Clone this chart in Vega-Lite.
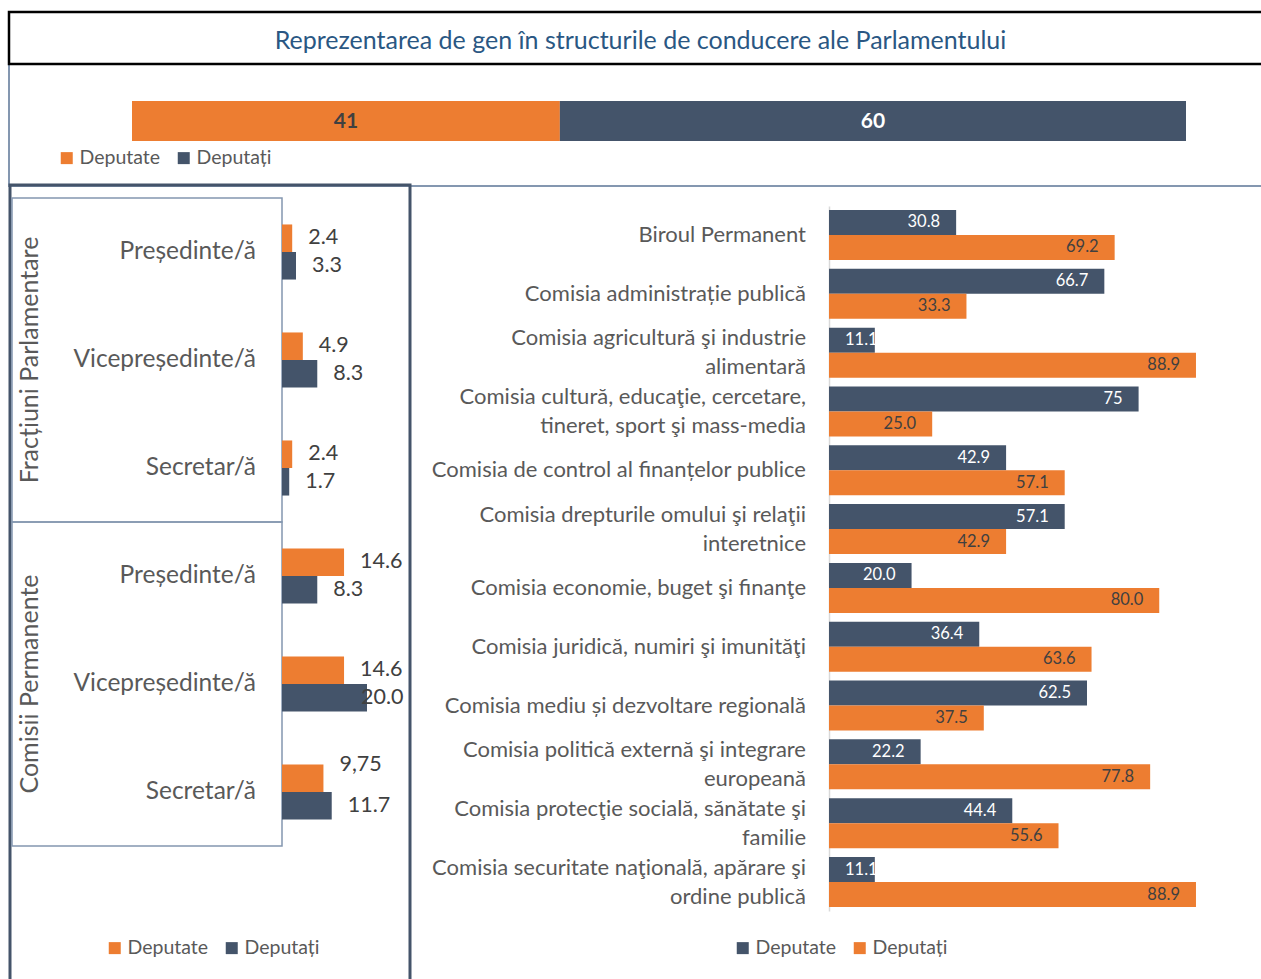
{
  "$schema": "https://vega.github.io/schema/vega-lite/v6.json",
  "width": 1261,
  "height": 979,
  "autosize": {"type": "none"},
  "padding": 0,
  "background": "white",
  "config": {
    "view": {"stroke": null},
    "font": "Lato",
    "legend": {
      "symbolType": "square",
      "symbolSize": 144,
      "labelFont": "Lato",
      "labelFontSize": 19.5,
      "labelColor": "#595959",
      "labelOffset": 3,
      "columnPadding": 13,
      "symbolStrokeWidth": 0,
      "symbolOpacity": 1,
      "padding": 0
    }
  },
  "datasets": {
    "total": [
      {"series": "Deputate", "n": 41},
      {"series": "Deputați", "n": 60}
    ],
    "groups": [
      {"group": "Fracțiuni Parlamentare"},
      {"group": "Comisii Permanente"}
    ],
    "left": [
      {"category": "FP Președinte/ă", "group": "Fracțiuni Parlamentare", "role": "Președinte/ă", "series": "Deputate", "value": 2.4, "label": "2.4"},
      {"category": "FP Președinte/ă", "group": "Fracțiuni Parlamentare", "role": "Președinte/ă", "series": "Deputați", "value": 3.3, "label": "3.3"},
      {"category": "FP Vicepreședinte/ă", "group": "Fracțiuni Parlamentare", "role": "Vicepreședinte/ă", "series": "Deputate", "value": 4.9, "label": "4.9"},
      {"category": "FP Vicepreședinte/ă", "group": "Fracțiuni Parlamentare", "role": "Vicepreședinte/ă", "series": "Deputați", "value": 8.3, "label": "8.3"},
      {"category": "FP Secretar/ă", "group": "Fracțiuni Parlamentare", "role": "Secretar/ă", "series": "Deputate", "value": 2.4, "label": "2.4"},
      {"category": "FP Secretar/ă", "group": "Fracțiuni Parlamentare", "role": "Secretar/ă", "series": "Deputați", "value": 1.7, "label": "1.7"},
      {"category": "CP Președinte/ă", "group": "Comisii Permanente", "role": "Președinte/ă", "series": "Deputate", "value": 14.6, "label": "14.6"},
      {"category": "CP Președinte/ă", "group": "Comisii Permanente", "role": "Președinte/ă", "series": "Deputați", "value": 8.3, "label": "8.3"},
      {"category": "CP Vicepreședinte/ă", "group": "Comisii Permanente", "role": "Vicepreședinte/ă", "series": "Deputate", "value": 14.6, "label": "14.6"},
      {"category": "CP Vicepreședinte/ă", "group": "Comisii Permanente", "role": "Vicepreședinte/ă", "series": "Deputați", "value": 20.0, "label": "20.0"},
      {"category": "CP Secretar/ă", "group": "Comisii Permanente", "role": "Secretar/ă", "series": "Deputate", "value": 9.75, "label": "9,75"},
      {"category": "CP Secretar/ă", "group": "Comisii Permanente", "role": "Secretar/ă", "series": "Deputați", "value": 11.7, "label": "11.7"}
    ],
    "right": [
      {"committee": "Biroul Permanent", "series": "Deputate", "value": 30.8, "label": "30.8"},
      {"committee": "Biroul Permanent", "series": "Deputați", "value": 69.2, "label": "69.2"},
      {"committee": "Comisia administrație publică", "series": "Deputate", "value": 66.7, "label": "66.7"},
      {"committee": "Comisia administrație publică", "series": "Deputați", "value": 33.3, "label": "33.3"},
      {"committee": "Comisia agricultură şi industrie\nalimentară", "series": "Deputate", "value": 11.1, "label": "11.1"},
      {"committee": "Comisia agricultură şi industrie\nalimentară", "series": "Deputați", "value": 88.9, "label": "88.9"},
      {"committee": "Comisia cultură, educaţie, cercetare,\ntineret, sport şi mass-media", "series": "Deputate", "value": 75, "label": "75"},
      {"committee": "Comisia cultură, educaţie, cercetare,\ntineret, sport şi mass-media", "series": "Deputați", "value": 25.0, "label": "25.0"},
      {"committee": "Comisia de control al finanțelor publice", "series": "Deputate", "value": 42.9, "label": "42.9"},
      {"committee": "Comisia de control al finanțelor publice", "series": "Deputați", "value": 57.1, "label": "57.1"},
      {"committee": "Comisia drepturile omului şi relaţii\ninteretnice", "series": "Deputate", "value": 57.1, "label": "57.1"},
      {"committee": "Comisia drepturile omului şi relaţii\ninteretnice", "series": "Deputați", "value": 42.9, "label": "42.9"},
      {"committee": "Comisia economie, buget şi finanţe", "series": "Deputate", "value": 20.0, "label": "20.0"},
      {"committee": "Comisia economie, buget şi finanţe", "series": "Deputați", "value": 80.0, "label": "80.0"},
      {"committee": "Comisia juridică, numiri şi imunităţi", "series": "Deputate", "value": 36.4, "label": "36.4"},
      {"committee": "Comisia juridică, numiri şi imunităţi", "series": "Deputați", "value": 63.6, "label": "63.6"},
      {"committee": "Comisia mediu și dezvoltare regională", "series": "Deputate", "value": 62.5, "label": "62.5"},
      {"committee": "Comisia mediu și dezvoltare regională", "series": "Deputați", "value": 37.5, "label": "37.5"},
      {"committee": "Comisia politică externă şi integrare\neuropeană", "series": "Deputate", "value": 22.2, "label": "22.2"},
      {"committee": "Comisia politică externă şi integrare\neuropeană", "series": "Deputați", "value": 77.8, "label": "77.8"},
      {"committee": "Comisia protecţie socială, sănătate şi\nfamilie", "series": "Deputate", "value": 44.4, "label": "44.4"},
      {"committee": "Comisia protecţie socială, sănătate şi\nfamilie", "series": "Deputați", "value": 55.6, "label": "55.6"},
      {"committee": "Comisia securitate naţională, apărare şi\nordine publică", "series": "Deputate", "value": 11.1, "label": "11.1"},
      {"committee": "Comisia securitate naţională, apărare şi\nordine publică", "series": "Deputați", "value": 88.9, "label": "88.9"}
    ]
  },
  "layer": [
    {
      "data": {"values": [{"frame": "top"}]},
      "mark": {"type": "rect", "filled": false, "stroke": "#8497B0", "strokeWidth": 2},
      "encoding": {
        "x": {"datum": "top", "type": "nominal", "scale": {"type": "band", "range": [9, 1275], "paddingInner": 0, "paddingOuter": 0}, "axis": null},
        "y": {"datum": "top", "type": "nominal", "scale": {"type": "band", "range": [64, 186], "paddingInner": 0, "paddingOuter": 0}, "axis": null}
      }
    },
    {
      "data": {"values": [{"frame": "left"}]},
      "mark": {"type": "rect", "filled": false, "stroke": "#44546A", "strokeWidth": 3},
      "encoding": {
        "x": {"datum": "left", "type": "nominal", "scale": {"type": "band", "range": [10, 410], "paddingInner": 0, "paddingOuter": 0}, "axis": null},
        "y": {"datum": "left", "type": "nominal", "scale": {"type": "band", "range": [185, 995], "paddingInner": 0, "paddingOuter": 0}, "axis": null}
      }
    },
    {
      "data": {"values": [{"title": "Reprezentarea de gen în structurile de conducere ale Parlamentului"}]},
      "encoding": {
        "x": {"datum": "t", "type": "nominal", "scale": {"type": "band", "range": [9, 1272], "paddingInner": 0, "paddingOuter": 0}, "axis": null},
        "y": {"datum": "t", "type": "nominal", "scale": {"type": "band", "range": [12, 64], "paddingInner": 0, "paddingOuter": 0}, "axis": null}
      },
      "layer": [
        {"mark": {"type": "rect", "filled": false, "stroke": "#000000", "strokeWidth": 2.5}},
        {"mark": {"type": "text", "fontSize": 25, "color": "#2A5783", "dy": 3, "baseline": "middle"}, "encoding": {"text": {"field": "title"}}}
      ]
    },
    {
      "data": {"name": "total"},
      "encoding": {
        "y": {"datum": "bar", "type": "nominal", "scale": {"type": "band", "range": [101, 141], "paddingInner": 0, "paddingOuter": 0}, "axis": null}
      },
      "layer": [
        {
          "mark": {"type": "bar"},
          "encoding": {
            "x": {"field": "n", "type": "quantitative", "stack": "zero", "scale": {"domain": [0, 101], "range": [132, 1186], "nice": false, "zero": false}, "axis": null},
            "color": {"field": "series", "type": "nominal", "scale": {"domain": ["Deputate", "Deputați"], "range": ["#ED7D31", "#44546A"]},
              "legend": {"title": null, "orient": "none", "legendX": 57, "legendY": 148, "direction": "horizontal"}}
          }
        },
        {
          "mark": {"type": "text", "fontSize": 21, "fontWeight": "bold", "baseline": "middle", "dy": 1},
          "encoding": {
            "x": {"field": "n", "type": "quantitative", "stack": "zero", "bandPosition": 0.5},
            "detail": {"field": "series"},
            "color": {"condition": {"test": "datum.series === 'Deputate'", "value": "#404040"}, "value": "#FFFFFF"},
            "text": {"field": "n"}
          }
        }
      ]
    },
    {
      "data": {"name": "groups"},
      "mark": {"type": "rect", "filled": false, "stroke": "#8497B0", "strokeWidth": 1.5},
      "encoding": {
        "x": {"datum": "box", "type": "nominal", "scale": {"type": "band", "range": [12, 282], "paddingInner": 0, "paddingOuter": 0}, "axis": null},
        "y": {"field": "group", "type": "nominal", "sort": null, "scale": {"type": "band", "range": [198, 846], "paddingInner": 0, "paddingOuter": 0}, "axis": null}
      }
    },
    {
      "data": {"name": "groups"},
      "mark": {"type": "text", "angle": 270, "fontSize": 25, "color": "#595959", "align": "center", "baseline": "middle"},
      "encoding": {
        "x": {"datum": "lbl", "type": "nominal", "scale": {"type": "band", "range": [18, 42], "paddingInner": 0, "paddingOuter": 0}, "axis": null},
        "y": {"field": "group", "type": "nominal", "sort": null, "scale": {"type": "band", "range": [198, 846], "paddingInner": 0, "paddingOuter": 0}, "axis": null},
        "text": {"field": "group"}
      }
    },
    {
      "data": {"name": "left"},
      "encoding": {
        "y": {"field": "category", "type": "nominal", "sort": null, "scale": {"type": "band", "range": [198, 846], "paddingInner": 0.49, "paddingOuter": 0.245}, "axis": null}
      },
      "layer": [
        {
          "mark": {"type": "bar"},
          "encoding": {
            "x": {"field": "value", "type": "quantitative", "scale": {"domain": [0, 30], "range": [282, 409.5], "nice": false}, "axis": null},
            "yOffset": {"field": "series", "type": "nominal", "scale": {"domain": ["Deputate", "Deputați"], "paddingInner": 0, "paddingOuter": 0}},
            "color": {"field": "series", "type": "nominal", "scale": {"domain": ["Deputate", "Deputați"], "range": ["#ED7D31", "#44546A"]},
              "legend": {"title": null, "orient": "none", "legendX": 105, "legendY": 938, "direction": "horizontal"}}
          }
        },
        {
          "transform": [{"filter": "datum.series === 'Deputate'"}],
          "mark": {"type": "text", "align": "right", "baseline": "middle", "fontSize": 24.5, "color": "#595959", "dx": -26},
          "encoding": {
            "x": {"datum": 0, "type": "quantitative"},
            "text": {"field": "role"}
          }
        },
        {
          "transform": [{"filter": "datum.label !== '20.0' && datum.label !== '9,75'"}],
          "mark": {"type": "text", "align": "left", "baseline": "middle", "fontSize": 21.5, "color": "#404040", "dx": 16},
          "encoding": {
            "x": {"field": "value", "type": "quantitative"},
            "yOffset": {"field": "series", "type": "nominal"},
            "text": {"field": "label"}
          }
        },
        {
          "transform": [{"filter": "datum.label === '20.0'"}],
          "mark": {"type": "text", "align": "left", "baseline": "middle", "fontSize": 21.5, "color": "#404040", "dx": -6},
          "encoding": {
            "x": {"field": "value", "type": "quantitative"},
            "yOffset": {"field": "series", "type": "nominal"},
            "text": {"field": "label"}
          }
        },
        {
          "transform": [{"filter": "datum.label === '9,75'"}],
          "mark": {"type": "text", "align": "left", "baseline": "middle", "fontSize": 21.5, "color": "#404040", "dx": 16, "dy": -13},
          "encoding": {
            "x": {"field": "value", "type": "quantitative"},
            "yOffset": {"field": "series", "type": "nominal"},
            "text": {"field": "label"}
          }
        }
      ]
    },
    {
      "data": {"name": "right"},
      "encoding": {
        "y": {"field": "committee", "type": "nominal", "sort": null, "scale": {"type": "band", "range": [206, 911], "paddingInner": 0.15, "paddingOuter": 0.068},
          "axis": {"orient": "left", "offset": -829, "labels": false, "ticks": false, "grid": false, "title": null, "domainColor": "#D9D9D9", "domainWidth": 1.5}}
      },
      "layer": [
        {
          "mark": {"type": "bar"},
          "encoding": {
            "x": {"field": "value", "type": "quantitative", "scale": {"domain": [0, 100], "range": [829, 1241.8], "nice": false}, "axis": null},
            "yOffset": {"field": "series", "type": "nominal", "scale": {"domain": ["Deputate", "Deputați"], "paddingInner": 0, "paddingOuter": 0}},
            "color": {"field": "series", "type": "nominal", "scale": {"domain": ["Deputate", "Deputați"], "range": ["#44546A", "#ED7D31"]},
              "legend": {"title": null, "orient": "none", "legendX": 733, "legendY": 938, "direction": "horizontal"}}
          }
        },
        {
          "transform": [{"filter": "datum.series === 'Deputate' && indexof(datum.committee, '\\n') < 0"}],
          "mark": {"type": "text", "align": "right", "baseline": "middle", "fontSize": 22, "color": "#595959", "dx": -23},
          "encoding": {
            "x": {"datum": 0, "type": "quantitative"},
            "text": {"field": "committee"}
          }
        },
        {
          "transform": [{"filter": "datum.series === 'Deputate' && indexof(datum.committee, '\\n') >= 0"}],
          "mark": {"type": "text", "align": "right", "baseline": "middle", "fontSize": 22, "color": "#595959", "dx": -23, "dy": -14.5, "lineBreak": "\n", "lineHeight": 29},
          "encoding": {
            "x": {"datum": 0, "type": "quantitative"},
            "text": {"field": "committee"}
          }
        },
        {
          "transform": [{"filter": "datum.value >= 15"}],
          "mark": {"type": "text", "align": "right", "baseline": "middle", "fontSize": 16.5, "dx": -16},
          "encoding": {
            "x": {"field": "value", "type": "quantitative"},
            "yOffset": {"field": "series", "type": "nominal"},
            "color": {"condition": {"test": "datum.series === 'Deputate'", "value": "#FFFFFF"}, "value": "#404040"},
            "text": {"field": "label"}
          }
        },
        {
          "transform": [{"filter": "datum.value < 15"}],
          "mark": {"type": "text", "align": "left", "baseline": "middle", "fontSize": 16.5, "dx": 16},
          "encoding": {
            "x": {"datum": 0, "type": "quantitative"},
            "yOffset": {"field": "series", "type": "nominal"},
            "color": {"condition": {"test": "datum.series === 'Deputate'", "value": "#FFFFFF"}, "value": "#404040"},
            "text": {"field": "label"}
          }
        }
      ]
    }
  ],
  "resolve": {
    "scale": {"x": "independent", "y": "independent", "color": "independent", "yOffset": "independent"},
    "axis": {"x": "independent", "y": "independent"},
    "legend": {"color": "independent"}
  }
}
